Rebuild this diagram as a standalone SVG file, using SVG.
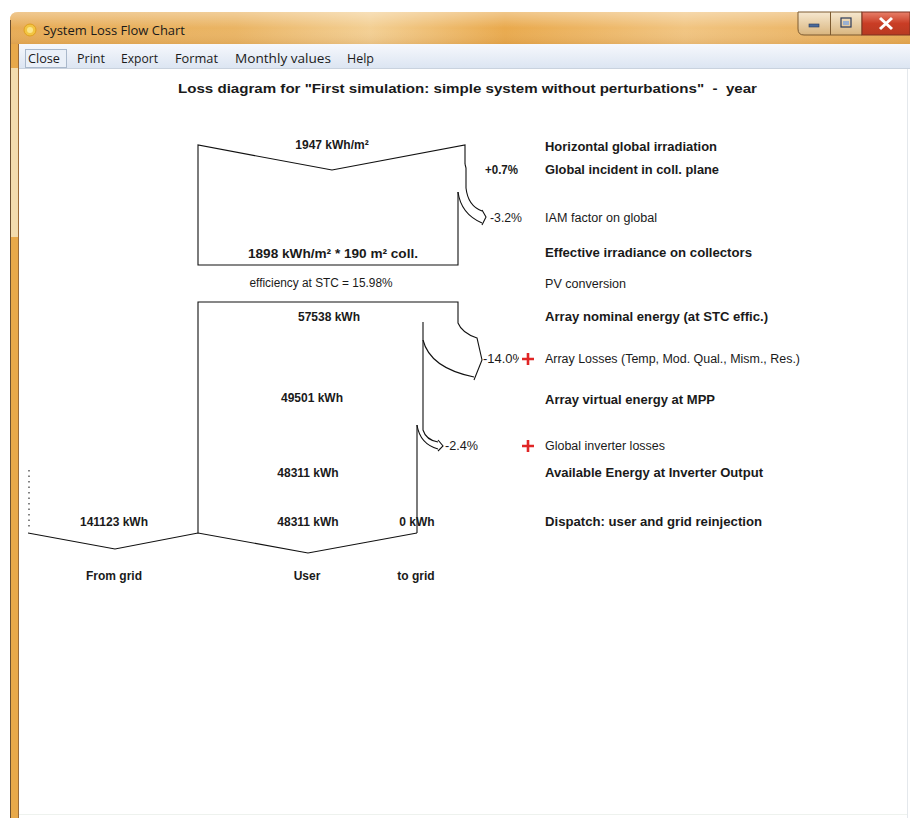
<svg xmlns="http://www.w3.org/2000/svg" width="910" height="818" viewBox="0 0 910 818">
<defs>
<style>
.b{font-family:"Liberation Sans",Arial,sans-serif;font-weight:bold;font-size:12px;fill:#1a1a1a}
.n{font-family:"Liberation Sans",Arial,sans-serif;font-size:12px;fill:#1a1a1a}
.m{font-family:"Open Sans","Noto Sans",sans-serif;font-size:12px;fill:#1a1a1a}
.ln{fill:none;stroke:#111;stroke-width:1.1}
.plus{stroke:#e02525;stroke-width:2.6}
</style>
<linearGradient id="tb" x1="0" y1="0" x2="1" y2="0">
<stop offset="0" stop-color="#e7ab55"/>
<stop offset="0.25" stop-color="#eab463"/>
<stop offset="0.4" stop-color="#f3cf93"/>
<stop offset="0.55" stop-color="#e9a94c"/>
<stop offset="0.75" stop-color="#f1c480"/>
<stop offset="1" stop-color="#e7aa52"/>
</linearGradient>
<linearGradient id="tbv" x1="0" y1="0" x2="0" y2="1">
<stop offset="0" stop-color="#fff" stop-opacity="0.35"/>
<stop offset="0.5" stop-color="#fff" stop-opacity="0"/>
<stop offset="1" stop-color="#a86a20" stop-opacity="0.15"/>
</linearGradient>
<linearGradient id="mb" x1="0" y1="0" x2="0" y2="1">
<stop offset="0" stop-color="#f6f8fc"/>
<stop offset="1" stop-color="#dce5f2"/>
</linearGradient>
<linearGradient id="btn" x1="0" y1="0" x2="0" y2="1">
<stop offset="0" stop-color="#f6e8d0"/>
<stop offset="1" stop-color="#d9b57e"/>
</linearGradient>
<linearGradient id="cls" x1="0" y1="0" x2="0" y2="1">
<stop offset="0" stop-color="#e8806a"/>
<stop offset="0.5" stop-color="#c93d25"/>
<stop offset="1" stop-color="#b83a22"/>
</linearGradient>
</defs>

<!-- window chrome -->
<rect x="0" y="0" width="910" height="818" fill="#ffffff"/>
<path d="M10,44 V20 Q10,12 18,12 H910 V44 Z" fill="url(#tb)"/>
<path d="M10,44 V20 Q10,12 18,12 H910 V44 Z" fill="url(#tbv)"/>
<rect x="10" y="44" width="9" height="774" fill="#e8a94a"/>
<rect x="10" y="68" width="9" height="169" fill="#f3dcae"/>
<line x1="10.5" y1="20" x2="10.5" y2="818" stroke="#6d5030" stroke-width="1"/>
<line x1="18.5" y1="44" x2="18.5" y2="818" stroke="#9a6a38" stroke-width="1"/>
<rect x="19" y="44" width="891" height="24" fill="url(#mb)"/>
<line x1="19" y1="68.5" x2="910" y2="68.5" stroke="#c9d2de"/>
<line x1="907.5" y1="69" x2="907.5" y2="818" stroke="#e4e8ec"/>
<line x1="19" y1="814.5" x2="907" y2="814.5" stroke="#eef2ee"/>
<g id="titlebar">
<circle cx="30" cy="30" r="6" fill="#f2c542" stroke="#e0a020" stroke-width="1"/>
<circle cx="30" cy="30" r="3" fill="#fbe58a"/>
<text x="43" y="35" class="m" font-size="13" textLength="142" lengthAdjust="spacingAndGlyphs">System Loss Flow Chart</text>
</g>
<g id="winbuttons">
<path d="M798,12 H862 V35 H804 Q798,35 798,29 Z" fill="url(#btn)" stroke="#7c5a30" stroke-width="1"/>
<line x1="830.5" y1="12" x2="830.5" y2="35" stroke="#7c5a30"/>
<rect x="809" y="24" width="10" height="3" fill="#4a6a9a" stroke="#2a3a5a" stroke-width="0.6"/>
<rect x="841" y="18" width="10" height="9" fill="none" stroke="#2a3a5a" stroke-width="1.2"/>
<rect x="843" y="21" width="6" height="4" fill="#9ab0d0"/>
<rect x="862" y="12" width="48" height="23" fill="url(#cls)" stroke="#7c3020" stroke-width="1"/>
<path d="M880,18 L892,29 M892,18 L880,29" stroke="#ffffff" stroke-width="3"/>
</g>
<g id="menu">
<rect x="25.5" y="49.5" width="41" height="18" fill="#eaf0f8" stroke="#a9b8cb"/>
<text x="28" y="63" class="m" textLength="32" lengthAdjust="spacingAndGlyphs">Close</text>
<text x="77" y="63" class="m" textLength="28" lengthAdjust="spacingAndGlyphs">Print</text>
<text x="121" y="63" class="m" textLength="37" lengthAdjust="spacingAndGlyphs">Export</text>
<text x="175" y="63" class="m" textLength="43" lengthAdjust="spacingAndGlyphs">Format</text>
<text x="235" y="63" class="m" textLength="96" lengthAdjust="spacingAndGlyphs">Monthly values</text>
<text x="347" y="63" class="m" textLength="27" lengthAdjust="spacingAndGlyphs">Help</text>
</g>

<!-- diagram title -->
<g id="title">
<text x="178" y="93" class="b" font-size="14" xml:space="preserve" textLength="579" lengthAdjust="spacingAndGlyphs">Loss diagram for "First simulation: simple system without perturbations"  -  year</text>
</g>

<!-- flow connectors / shapes -->
<g id="connectors">
<path class="ln" d="M465,164 V145 L332,170 L198,145 V265 H458 V192"/>
<path class="ln" d="M465,164 L466,168 V188 Q468,206 482,211"/>
<path class="ln" d="M458,192 Q461,214 482,223"/>
<path class="ln" d="M482,210 L486,217 L482,225"/>
<path class="ln" d="M417,533 V425 M198,533 V302 H458 V323 Q462,333 477,338 L482,360 L474,380"/>
<path class="ln" d="M423,322 V340 Q430,368 474,377"/>
<path class="ln" d="M423,340 V430 Q426,440 438,442"/>
<path class="ln" d="M417,425 Q420,444 438,449"/>
<path class="ln" d="M438,440 L443,446 L438,451"/>
<path class="ln" d="M28,533 L115,549 L198,533 L308,553 L417,533"/>
<path d="M29,470 V530" fill="none" stroke="#333" stroke-width="1.2" stroke-dasharray="1.5,4"/>
</g>

<!-- values -->
<g id="n-irr"><text x="332" y="149" class="b" text-anchor="middle">1947 kWh/m²</text></g>
<g id="n-eff"><text x="333" y="258" class="b" text-anchor="middle" textLength="170" lengthAdjust="spacingAndGlyphs">1898 kWh/m² * 190 m² coll.</text></g>
<g id="n-stc"><text x="321" y="287" class="n" text-anchor="middle" textLength="143" lengthAdjust="spacingAndGlyphs">efficiency at STC = 15.98%</text></g>
<g id="n-nom"><text x="329" y="321" class="b" text-anchor="middle">57538 kWh</text></g>
<g id="n-mpp"><text x="312" y="402" class="b" text-anchor="middle">49501 kWh</text></g>
<g id="n-inv"><text x="308" y="477" class="b" text-anchor="middle">48311 kWh</text></g>
<g id="n-grid"><text x="114" y="526" class="b" text-anchor="middle">141123 kWh</text><text x="114" y="580" class="b" text-anchor="middle">From grid</text></g>
<g id="n-user"><text x="308" y="526" class="b" text-anchor="middle">48311 kWh</text><text x="307" y="580" class="b" text-anchor="middle">User</text></g>
<g id="n-togrid"><text x="417" y="526" class="b" text-anchor="middle">0 kWh</text><text x="416" y="580" class="b" text-anchor="middle">to grid</text></g>

<!-- percentages -->
<g id="p-gain"><text x="485" y="174" class="b" textLength="33" lengthAdjust="spacingAndGlyphs">+0.7%</text></g>
<g id="p-iam"><text x="490" y="222" class="n" textLength="32" lengthAdjust="spacingAndGlyphs">-3.2%</text></g>
<g id="p-arr"><text x="483" y="363" class="n" textLength="41" lengthAdjust="spacingAndGlyphs">-14.0%</text><rect x="519" y="350" width="16" height="18" fill="#fff"/><path class="plus" d="M522,359 H534 M528,353 V365"/></g>
<g id="p-inv"><text x="445" y="450" class="n" textLength="33" lengthAdjust="spacingAndGlyphs">-2.4%</text><path class="plus" d="M522,446 H534 M528,440 V452"/></g>

<!-- right labels -->
<g id="labels">
<text x="545" y="151" class="b" textLength="172" lengthAdjust="spacingAndGlyphs">Horizontal global irradiation</text>
<text x="545" y="174" class="b" textLength="174" lengthAdjust="spacingAndGlyphs">Global incident in coll. plane</text>
<text x="545" y="222" class="n" textLength="112" lengthAdjust="spacingAndGlyphs">IAM factor on global</text>
<text x="545" y="257" class="b" textLength="207" lengthAdjust="spacingAndGlyphs">Effective irradiance on collectors</text>
<text x="545" y="288" class="n" textLength="81" lengthAdjust="spacingAndGlyphs">PV conversion</text>
<text x="545" y="321" class="b" textLength="223" lengthAdjust="spacingAndGlyphs">Array nominal energy (at STC effic.)</text>
<text x="545" y="363" class="n" textLength="255" lengthAdjust="spacingAndGlyphs">Array Losses (Temp, Mod. Qual., Mism., Res.)</text>
<text x="545" y="404" class="b" textLength="170" lengthAdjust="spacingAndGlyphs">Array virtual energy at MPP</text>
<text x="545" y="450" class="n" textLength="120" lengthAdjust="spacingAndGlyphs">Global inverter losses</text>
<text x="545" y="477" class="b" textLength="218" lengthAdjust="spacingAndGlyphs">Available Energy at Inverter Output</text>
<text x="545" y="526" class="b" textLength="217" lengthAdjust="spacingAndGlyphs">Dispatch: user and grid reinjection</text>
</g>
</svg>
